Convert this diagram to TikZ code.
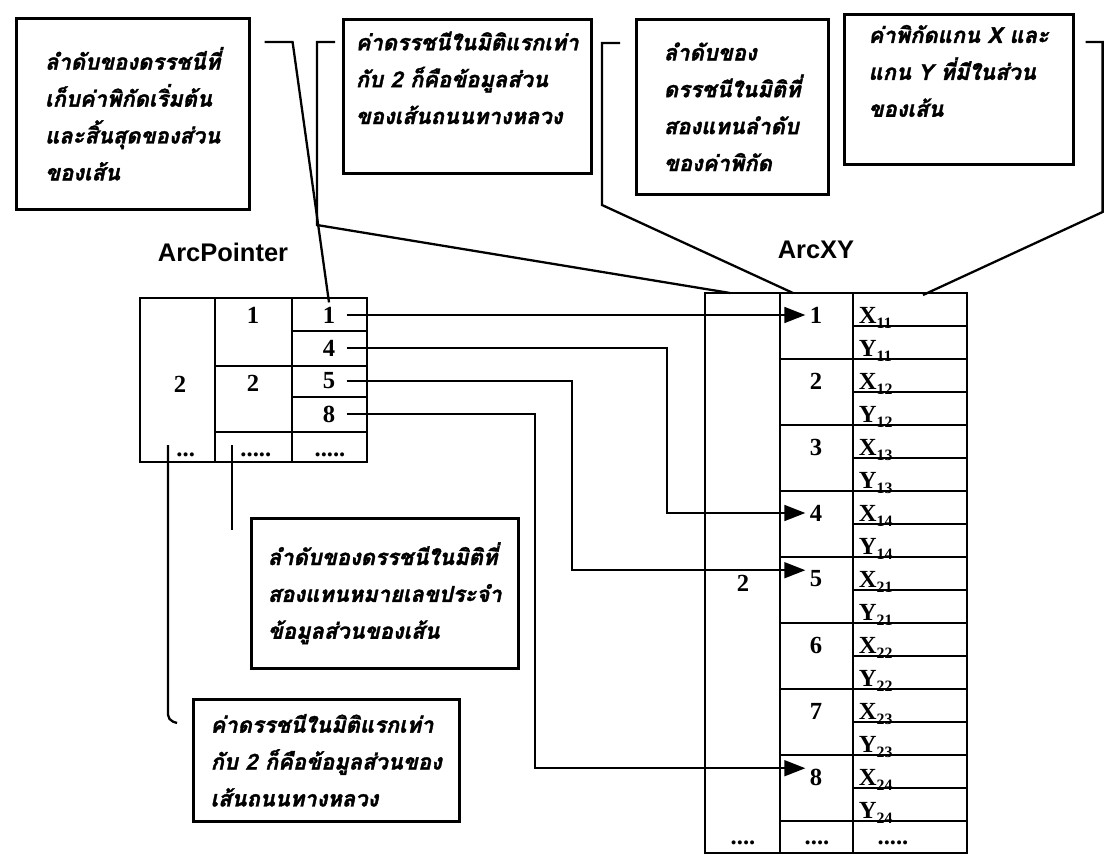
\documentclass[tikz,border=0pt]{standalone}
\usepackage{fontspec}
\setmainfont{Liberation Serif}
\setsansfont{Liberation Sans}
\newfontfamily\thaifont[Script=Thai,FakeBold=1.6]{Loma}
\usetikzlibrary{arrows.meta}

\newcommand{\lowsub}[1]{\raisebox{-0.45ex}{\fontsize{9}{9}\selectfont #1}}

\begin{document}
\begin{tikzpicture}[x=0.02cm, y=-0.02cm,
	line width=1.1pt,
	note/.style = {draw, line width=1.5pt, anchor=north west, align=left,
		inner xsep=0.2cm,
		font=\thaifont\bfseries\itshape\fontsize{12.5}{21}\selectfont},
	num/.style = {font=\bfseries\fontsize{14}{14}\selectfont, inner sep=2pt},
	coord/.style = {font=\bfseries\fontsize{14}{14}\selectfont,
		anchor=base west, inner sep=0pt},
	title/.style = {font=\sffamily\bfseries\fontsize{14.5}{14.5}\selectfont},
	ptr/.style = {-{Triangle[length=12pt,width=9pt]}, line width=1.3pt,
		shorten <=4pt},
	callout/.style = {line width=1.3pt}]

	\useasboundingbox (0,0) rectangle (1108,868);

	% notes
	\node[note, minimum width=4.66cm, minimum height=3.82cm] (b1) at (15,17)
		{ลำดับของดรรชนีที่\\เก็บค่าพิกัดเริ่มต้น\\และสิ้นสุดของส่วน\\ของเส้น};
	\node[note, minimum width=4.96cm, minimum height=3.08cm] (b2) at (342,18)
		{ค่าดรรชนีในมิติแรกเท่า\\กับ 2 ก็คือข้อมูลส่วน\\ของเส้นถนนทางหลวง\\\mbox{}};
	\node[note, minimum width=3.84cm, minimum height=3.5cm] (b3) at (635,18)
		{ลำดับของ\\ดรรชนีในมิติที่\\สองแทนลำดับ\\ของค่าพิกัด};
	\node[note, minimum width=4.58cm, minimum height=3.0cm] (b4) at (843,13)
		{ค่าพิกัดแกน X และ\\แกน Y ที่มีในส่วน\\ของเส้น\\\mbox{}};
	\node[note, minimum width=5.34cm, minimum height=3.0cm] (b5) at (250,517)
		{ลำดับของดรรชนีในมิติที่\\สองแทนหมายเลขประจำ\\ข้อมูลส่วนของเส้น};
	\node[note, minimum width=5.32cm, minimum height=2.44cm] (b6) at (192,698)
		{ค่าดรรชนีในมิติแรกเท่า\\กับ 2 ก็คือข้อมูลส่วนของ\\เส้นถนนทางหลวง};

	% ArcPointer
	\node[title] (ptitle) at (223,252) {ArcPointer};
	\draw (140,298) rectangle (367,462);
	\draw (215,298) -- (215,462) (292,298) -- (292,462);
	\draw (215,366) -- (367,366) (215,432) -- (367,432);
	\draw (292,331) -- (367,331) (292,397) -- (367,397);
	\node[num] (d1) at (180,384) {2};
	\node[num] (c1) at (253,315) {1};
	\node[num] (c2) at (253,383) {2};
	\foreach \v/\y in {1/315,4/348,5/381,8/414}
		\node[num] (p\v) at (329,\y) {\v};
	\node[num, anchor=west] (q1) at (172,455) {...};
	\node[num, anchor=west] (q2) at (236,455) {.....};
	\node[num] (q3) at (330,455) {.....};

	% ArcXY
	\node[title] (xtitle) at (816,250) {ArcXY};
	\draw (705,293) rectangle (967,853);
	\draw (780,293) -- (780,853) (853,293) -- (853,853);
	\foreach \k in {1,3,...,15}
		\draw (853,{293+33*\k}) -- (967,{293+33*\k});
	\foreach \k in {2,4,...,16}
		\draw (780,{293+33*\k}) -- (967,{293+33*\k});
	\node[num] (e1) at (743,583) {2};
	\foreach \i/\s in {1/11,2/12,3/13,4/14,5/21,6/22,7/23,8/24} {
		\node[num] (a\i) at (816,{249+66*\i}) {\i};
		\node[coord] (x\i) at (858,{257+66*\i}) {X\lowsub{\s}};
		\node[coord] (y\i) at (858,{290+66*\i}) {Y\lowsub{\s}};
	}
	\node[num] (r1) at (743,843) {....};
	\node[num] (r2) at (817,843) {....};
	\node[num] (r3) at (893,843) {.....};
	\coordinate (xy1top) at (730,293);
	\coordinate (xy2top) at (793,293);
	\coordinate (xy3top) at (923,295);

	% pointers
	\draw[ptr] (p1.east) -- (p1.east -| a1.west);
	\draw[ptr] (p4.east) -- (p4.east -| 667,0) |- (a4.west);
	\draw[ptr] (p5.east) -- (p5.east -| 572,0) |- ([yshift=5pt]a5.west);
	\draw[ptr] (p8.east) -- (p8.east -| 535,0) |- ([yshift=5pt]a8.west);

	% callouts
	\draw[callout] (b1.north east) ++(14,25) -- ++(28,0) -- (p1.north);
	\draw[callout] (b2.north west) ++(-7,24) -- ++(-18,0) -- ++(0,183) -- (xy1top);
	\draw[callout] (b3.north west) ++(-15,25) -- ++(-18,0) -- ++(0,162) -- (xy2top);
	\draw[callout] (b4.north east) ++(11,29) -- ++(17,0) -- ++(0,170) -- (xy3top);
	\draw[callout, rounded corners=3pt] (q1.west) ++(-4,-10) -- ++(0,275) -- ++(9,3);
	\draw[callout] (q2.west) ++(-4,-10) -- ++(0,85);
\end{tikzpicture}
\end{document}
